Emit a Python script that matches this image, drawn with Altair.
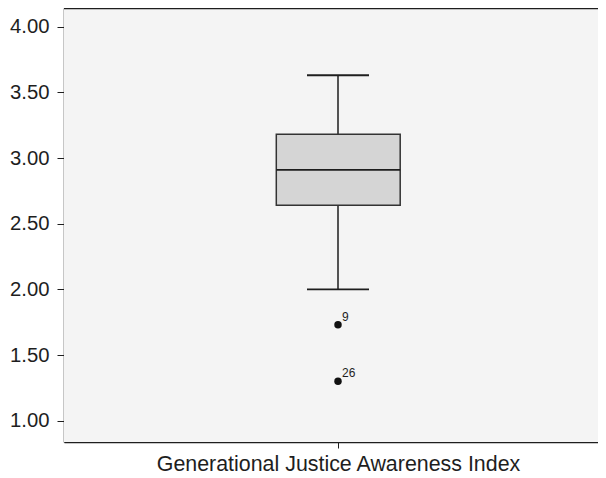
import altair as alt
import pandas as pd

# Box-plot summary values
stat_names = ["whisker_low", "q1", "median", "q3", "whisker_high"]
stat_values = [2.00, 2.64, 2.91, 3.18, 3.63]

outlier_values = [1.73, 1.30]
outlier_labels = ["9", "26"]

y_ticks = [1.00, 1.50, 2.00, 2.50, 3.00, 3.50, 4.00]
x_title = "Generational Justice Awareness Index"

s = dict(zip(stat_names, stat_values))
box_df = pd.DataFrame([{"c": 0, **s}])
out_df = pd.DataFrame({"c": [0] * len(outlier_values), "v": outlier_values, "lab": outlier_labels})

W, H = 534, 434
ydom = [0.838, 4.142]
xdom = [-274, 260]
box_half = 61.7
cap_half = 31

yscale = alt.Scale(domain=ydom, nice=False, zero=False)
xscale = alt.Scale(domain=xdom, nice=False, zero=False)
ink = "#1e1e1e"

base = alt.Chart(box_df)

xenc = alt.X(
    "c:Q", scale=xscale,
    axis=alt.Axis(values=[0], labels=False, ticks=True, tickSize=6, tickColor=ink,
                  domainColor=ink, domainWidth=1.5, grid=False, title=x_title,
                  titleFont="Liberation Sans", titleFontSize=21.4, titleFontWeight="normal",
                  titleColor=ink, titleX=274, titleY=28, titleAlign="center",
                  titleBaseline="alphabetic"),
)
yenc_axis = alt.Y(
    "q1:Q", scale=yscale,
    axis=alt.Axis(values=y_ticks, format=".2f", tickSize=7, tickColor=ink, labelPadding=8,
                  labelFont="Liberation Sans", labelFontSize=20.3, labelColor=ink,
                  domainColor=ink, domainWidth=1.5, grid=False, title=None),
)

bg = base.mark_rect(fill="#f4f4f4").encode(
    x=alt.value(0), x2=alt.value(W), y=alt.value(0), y2=alt.value(H)
)
whisker = base.mark_rule(color=ink, strokeWidth=1.5).encode(
    x=xenc, y=alt.Y("whisker_low:Q", scale=yscale), y2="whisker_high:Q"
)
box = base.mark_bar(fill="#d5d5d5", stroke="#333333", strokeWidth=1.5).encode(
    x=alt.X("xl:Q", scale=xscale), x2="xr:Q", y=yenc_axis, y2="q3:Q"
).transform_calculate(xl=str(-box_half), xr=str(box_half + 0.5))
median = base.mark_rule(color=ink, strokeWidth=1.8).encode(
    x=alt.X("xl:Q", scale=xscale), x2="xr:Q", y=alt.Y("median:Q", scale=yscale)
).transform_calculate(xl=str(-box_half), xr=str(box_half + 0.5))
cap_low = base.mark_rule(color=ink, strokeWidth=1.8).encode(
    x=alt.X("xl:Q", scale=xscale), x2="xr:Q", y=alt.Y("whisker_low:Q", scale=yscale)
).transform_calculate(xl=str(-cap_half), xr=str(cap_half))
cap_high = base.mark_rule(color=ink, strokeWidth=1.8).encode(
    x=alt.X("xl:Q", scale=xscale), x2="xr:Q", y=alt.Y("whisker_high:Q", scale=yscale)
).transform_calculate(xl=str(-cap_half), xr=str(cap_half))

pts = alt.Chart(out_df).mark_circle(color="#111111", size=56, opacity=1).encode(
    x=alt.X("c:Q", scale=xscale), y=alt.Y("v:Q", scale=yscale)
)
labs = alt.Chart(out_df).mark_text(
    align="left", baseline="alphabetic", dx=4, dy=-4, fontSize=12,
    font="Liberation Sans", color=ink
).encode(x=alt.X("c:Q", scale=xscale), y=alt.Y("v:Q", scale=yscale), text="lab:N")

top_line = base.mark_rule(color=ink, strokeWidth=1.5).encode(
    y=alt.value(0.5), x=alt.value(0), x2=alt.value(W)
)

chart = alt.layer(bg, whisker, box, median, cap_low, cap_high, pts, labs, top_line).properties(
    width=W, height=H,
    autosize=alt.AutoSizeParams(type="none"),
    padding={"left": 56, "top": 0, "right": 0, "bottom": 36},
).configure_view(strokeWidth=0, strokeOpacity=0).configure(background="white")

chart.save("out.html", embed_options={"renderer": "svg", "actions": False})
